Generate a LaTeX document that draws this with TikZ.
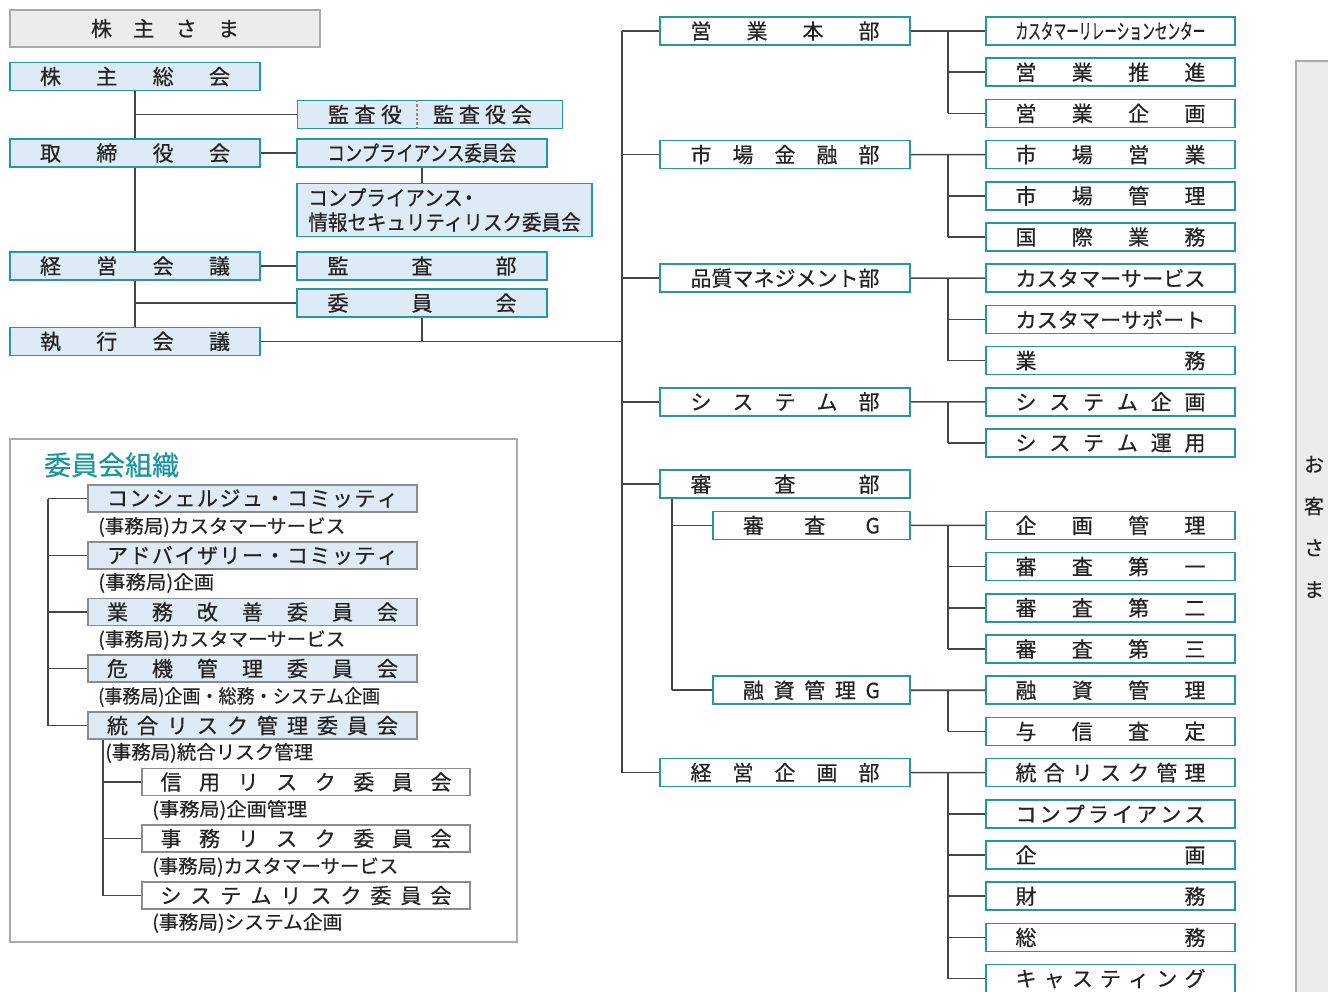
\documentclass[tikz,border=0pt]{standalone}
\usepackage{fontspec}
\setmainfont{Noto Sans CJK JP}[FakeBold=0.5]
\usepackage{graphicx}
\usetikzlibrary{positioning}
\definecolor{tealline}{RGB}{35,152,163}
\definecolor{boxblue}{RGB}{222,234,246}
\definecolor{linegray}{RGB}{70,70,70}
\definecolor{framegray}{RGB}{170,170,170}
\definecolor{cmtgray}{RGB}{140,140,140}
\definecolor{holderbg}{RGB}{236,236,238}
\definecolor{textdark}{RGB}{35,35,35}
\definecolor{titleteal}{RGB}{25,150,160}
% spread characters over a given width
\def\spreadchars#1#2\endspread{#1\ifx\relax#2\relax\else\hfill\spreadchars#2\endspread\fi}
\newcommand{\spreadw}[2]{\makebox[#1]{\spreadchars#2\endspread}}
\newcommand{\fitw}[2]{\resizebox{#1}{\height}{#2}}
\tikzset{
  holderbox/.style={
    draw=framegray, fill=holderbg, line width=1.6pt,
    minimum width=310pt, minimum height=37pt, inner sep=0pt
  },
  bodybox/.style={
    draw=tealline, fill=boxblue, line width=1.6pt,
    minimum width=250pt, minimum height=28pt, inner sep=0pt
  },
  deptbox/.style={
    draw=tealline, fill=white, line width=1.6pt,
    minimum width=250pt, minimum height=28pt, inner sep=0pt
  },
  unitbox/.style={
    draw=tealline, fill=white, line width=1.6pt,
    minimum width=249pt, minimum height=28pt, inner sep=0pt
  },
  cmtbox/.style={
    draw=cmtgray, fill=boxblue, line width=1.4pt,
    minimum width=329pt, minimum height=27pt, inner sep=0pt
  },
  subcmtbox/.style={
    draw=cmtgray, fill=white, line width=1.4pt,
    minimum width=328pt, minimum height=27pt, inner sep=0pt
  },
  note/.style={
    anchor=west, inner sep=0pt,
    font=\fontsize{19pt}{22pt}\selectfont
  },
  cmttitle/.style={
    anchor=west, inner sep=0pt, text=titleteal,
    font=\fontsize{27pt}{30pt}\selectfont
  },
  link/.style={draw=linegray, line width=1.6pt},
  divider/.style={draw=cmtgray, line width=1.2pt, dash pattern=on 2.5pt off 2pt},
}
\begin{document}
\begin{tikzpicture}[x=1pt, y=-1pt, font=\fontsize{21pt}{25pt}\selectfont, text=textdark]
  \useasboundingbox (0,0) rectangle (1328,992);

  %% Customers strip
  \filldraw[fill=holderbg, draw=framegray, line width=1.6pt] (1296,61) rectangle (1345,1010);
  \node[align=center, font=\fontsize{20pt}{41.7pt}\selectfont] (okyaku) at (1314,527) {お\\客\\さ\\ま};

  %% Shareholders
  \node[holderbox] (kabunushi) at (165,28.5) {\spreadw{148pt}{株主さま}};

  %% Governance bodies
  \node[bodybox] (soukai) at (135,76.5) {\spreadw{190pt}{株主総会}};
  \node[bodybox] (torishimari) at (135,153) {\spreadw{190pt}{取締役会}};
  \node[bodybox] (keiei) at (135,266) {\spreadw{190pt}{経営会議}};
  \node[bodybox] (shikkou) at (135,341.5) {\spreadw{190pt}{執行会議}};

  \node[bodybox, minimum width=265pt] (kansa) at (430,114.5) {};
  \node[inner sep=0pt] (kansayaku) at (365,114.5) {\spreadw{74pt}{監査役}};
  \node[inner sep=0pt] (kansakai) at (482.5,114.5) {\spreadw{99pt}{監査役会}};
  \coordinate (kdiv) at (417,114.5);
  \draw[divider] (kdiv |- kansa.north) -- (kdiv |- kansa.south);

  \node[bodybox] (comp) at (422,153) {\fitw{189pt}{コンプライアンス委員会}};
  \node[bodybox, minimum width=295pt, minimum height=53pt, align=left,
        font=\fontsize{21pt}{24.5pt}\selectfont] (compinfo) at (444.5,210)
    {\scalebox{0.93}[1]{コンプライアンス\kern-4pt・}\\\scalebox{0.93}[1]{情報セキュリティリスク委員会}};
  \node[bodybox] (kansabu) at (422,266) {\spreadw{189pt}{監査部}};
  \node[bodybox] (iinkai) at (422,303) {\spreadw{189pt}{委員会}};

  \draw[link] (soukai.south) -- (torishimari.north);
  \draw[link] (torishimari.south) -- (keiei.north);
  \draw[link] (keiei.south) -- (shikkou.north);
  \draw[link] (soukai.south |- kansa.west) -- (kansa.west);
  \draw[link] (torishimari.east) -- (comp.west);
  \draw[link] (comp.south) -- (comp.south |- compinfo.north);
  \draw[link] (keiei.east) -- (kansabu.west);
  \draw[link] (keiei.south |- iinkai.west) -- (iinkai.west);
  \draw[link] (iinkai.south) -- (iinkai.south |- shikkou.east);
  \coordinate (trunk) at (622,341.5);
  \draw[link] (shikkou.east) -- (trunk);

  %% Departments
  \node[deptbox] (eigyo) at (785,31) {\spreadw{189pt}{営業本部}};
  \node[deptbox] (shijo) at (785,154.6) {\spreadw{189pt}{市場金融部}};
  \node[deptbox] (hinshitsu) at (785,278.2) {\fitw{189pt}{品質マネジメント部}};
  \node[deptbox] (system) at (785,401.8) {\spreadw{189pt}{システム部}};
  \node[deptbox] (shinsa) at (785,484.2) {\spreadw{189pt}{審査部}};
  \node[deptbox, minimum width=197pt] (shinsag) at (811.5,525.4) {\spreadw{137pt}{審査G}};
  \node[deptbox, minimum width=197pt] (yushig) at (811.5,690.2) {\spreadw{137pt}{融資管理G}};
  \node[deptbox] (kikaku) at (785,772.6) {\spreadw{189pt}{経営企画部}};

  \draw[link] (trunk |- eigyo.west) -- (trunk |- kikaku.west);
  \foreach \d in {eigyo,shijo,hinshitsu,system,shinsa,kikaku}
    \draw[link] (trunk |- \d.west) -- (\d.west);

  \coordinate (strunk) at (672,484.2);
  \draw[link] (shinsa.south -| strunk) -- (strunk |- yushig.west);
  \foreach \g in {shinsag,yushig}
    \draw[link] (strunk |- \g.west) -- (\g.west);

  %% Units
  \foreach \k/\txt in {
      0/{\fitw{190pt}{カスタマーリレーションセンター}},
      1/{\spreadw{190pt}{営業推進}},
      2/{\spreadw{190pt}{営業企画}},
      3/{\spreadw{190pt}{市場営業}},
      4/{\spreadw{190pt}{市場管理}},
      5/{\spreadw{190pt}{国際業務}},
      6/{\fitw{190pt}{カスタマーサービス}},
      7/{\fitw{190pt}{カスタマーサポート}},
      8/{\spreadw{190pt}{業務}},
      9/{\spreadw{190pt}{システム企画}},
      10/{\spreadw{190pt}{システム運用}},
      12/{\spreadw{190pt}{企画管理}},
      13/{\spreadw{190pt}{審査第一}},
      14/{\spreadw{190pt}{審査第二}},
      15/{\spreadw{190pt}{審査第三}},
      16/{\spreadw{190pt}{融資管理}},
      17/{\spreadw{190pt}{与信査定}},
      18/{\spreadw{190pt}{統合リスク管理}},
      19/{\spreadw{190pt}{コンプライアンス}},
      20/{\spreadw{190pt}{企画}},
      21/{\spreadw{190pt}{財務}},
      22/{\spreadw{190pt}{総務}},
      23/{\spreadw{190pt}{キャスティング}}}
    \node[unitbox] (u\k) at (1110.5,{31+41.2*\k}) {\txt};

  \coordinate (rbus) at (948,0);
  \foreach \p/\i/\j in {eigyo/0/2, shijo/3/5, hinshitsu/6/8, system/9/10,
                        shinsag/12/15, yushig/16/17, kikaku/18/23} {
    \draw[link] (\p.east) -- (u\i.west);
    \draw[link] (rbus |- u\i.west) -- (rbus |- u\j.west);
  }
  \foreach \k in {1,2,4,5,7,8,10,13,14,15,17,19,20,21,22,23}
    \draw[link] (rbus |- u\k.west) -- (u\k.west);

  %% Committees
  \draw[draw=framegray, line width=2.4pt] (10,439) rectangle (517,942);
  \node[cmttitle] (cmthead) at (44,465) {委員会組織};

  \node[cmtbox] (c1) at (252.5,498.5) {\spreadw{291pt}{コンシェルジュ・コミッティ}};
  \node[cmtbox] (c2) at (252.5,555.5) {\spreadw{291pt}{アドバイザリー・コミッティ}};
  \node[cmtbox] (c3) at (252.5,612) {\spreadw{291pt}{業務改善委員会}};
  \node[cmtbox] (c4) at (252.5,668.5) {\spreadw{291pt}{危機管理委員会}};
  \node[cmtbox] (c5) at (252.5,725.5) {\spreadw{291pt}{統合リスク管理委員会}};
  \node[subcmtbox] (r1) at (306,782) {\spreadw{291pt}{信用リスク委員会}};
  \node[subcmtbox] (r2) at (306,838.5) {\spreadw{291pt}{事務リスク委員会}};
  \node[subcmtbox] (r3) at (306,895.5) {\spreadw{291pt}{システムリスク委員会}};

  \node[note] (n1) at (98,527) {\fitw{247pt}{(事務局)カスタマーサービス}};
  \node[note] (n2) at (98,583) {\fitw{116pt}{(事務局)企画}};
  \node[note] (n3) at (98,640) {\fitw{247pt}{(事務局)カスタマーサービス}};
  \node[note] (n4) at (98,697) {\fitw{282pt}{(事務局)企画・総務・システム企画}};
  \node[note] (n5) at (105,753) {\fitw{208pt}{(事務局)統合リスク管理}};
  \node[note] (n6) at (152,810) {\fitw{155pt}{(事務局)企画管理}};
  \node[note] (n7) at (152,867) {\fitw{246pt}{(事務局)カスタマーサービス}};
  \node[note] (n8) at (152,923) {\fitw{190pt}{(事務局)システム企画}};

  \coordinate (cbus) at (48,0);
  \draw[link] (cbus |- c1.west) -- (cbus |- c5.west);
  \foreach \c in {c1,c2,c3,c4,c5}
    \draw[link] (cbus |- \c.west) -- (\c.west);
  \coordinate (sbus) at (103,0);
  \draw[link] (sbus |- c5.south) -- (sbus |- r3.west);
  \foreach \r in {r1,r2,r3}
    \draw[link] (sbus |- \r.west) -- (\r.west);

\end{tikzpicture}
\end{document}
